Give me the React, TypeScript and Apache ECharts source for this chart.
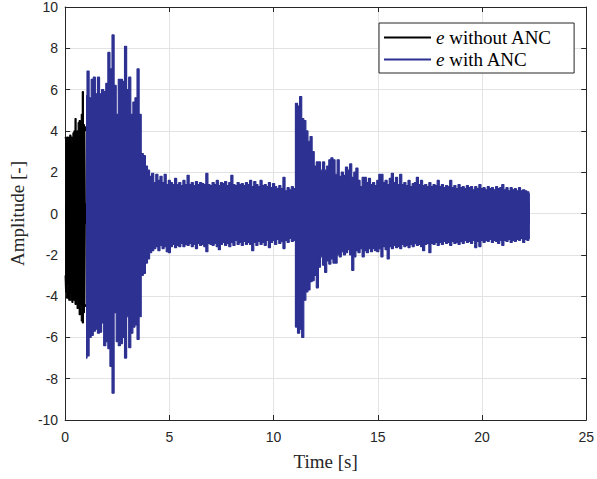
import React, { useEffect, useRef } from "react";
import * as echarts from "echarts";

// ---- Data (envelope of the error signal) ----
const blackTimes = [0, 0.05, 0.1, 0.15, 0.2, 0.25, 0.3, 0.35, 0.4, 0.45, 0.5, 0.55, 0.6, 0.65, 0.7, 0.75, 0.8, 0.85, 0.9, 0.95, 1.0];
const blackUpper = [3.7, 3.6, 3.7, 3.6, 3.7, 3.8, 3.7, 3.5, 3.9, 4.0, 4.6, 3.9, 4.0, 4.4, 4.5, 4.3, 4.8, 5.9, 4.3, 4.2, 4.0];
const blackLower = [-3.0, -3.8, -4.1, -3.5, -4.2, -4.2, -3.9, -4.3, -4.0, -4.2, -4.4, -4.1, -4.6, -4.4, -4.9, -4.5, -5.2, -5.3, -4.8, -4.5, -4.4];

const blueStart = 1.0;
const blueStep = 0.1;
const blueUpper = [
  5.7, 6.9, 5.6, 6.5, 6.6, 5.8, 6.6, 5.8, 6.0, 5.9,
  6.3, 7.8, 7.0, 8.65, 6.2, 4.8, 6.5, 6.5, 6.4, 8.1,
  6.0, 6.6, 4.8, 5.4, 5.6, 7.0, 4.8, 2.9, 2.8, 2.3,
  2.1, 1.8, 1.95, 1.5, 1.9, 1.6, 1.8, 1.5, 1.9, 1.4,
  1.6, 1.5, 1.4, 1.7, 1.4, 1.5, 1.35, 1.6, 1.4, 1.85,
  1.4, 1.5, 1.35, 1.55, 1.4, 1.5, 1.45, 1.4, 1.95, 1.4,
  1.35, 1.5, 1.4, 1.6, 1.35, 1.5, 1.45, 1.55, 1.35, 1.5,
  1.85, 1.4, 1.35, 1.5, 1.4, 1.45, 1.35, 1.5, 1.4, 1.6,
  1.3, 1.55, 1.4, 1.3, 1.6, 1.35, 1.4, 1.3, 1.5, 1.25,
  1.45, 1.3, 1.2, 1.35, 1.2, 1.75, 1.1, 1.25, 1.15, 1.3,
  1.2, 5.34, 5.2, 5.66, 4.6, 4.5, 4.0, 3.5, 3.73, 3.0,
  2.3, 2.5, 2.5, 2.1, 2.5, 2.1, 2.3, 2.6, 2.7, 2.6,
  1.9, 2.6, 1.8, 2.0, 1.85, 2.25, 2.1, 2.4, 1.75, 2.0,
  2.2, 1.6, 1.3, 1.75, 1.75, 1.5, 1.7, 1.4, 1.5, 1.35,
  1.6, 1.9, 1.9, 1.5, 1.6, 1.4, 1.7, 1.95, 1.5, 1.75,
  1.4, 1.9, 1.4, 1.5, 1.35, 1.6, 1.3, 1.45, 1.5, 1.75,
  1.4, 1.6, 1.35, 1.4, 1.3, 1.5, 1.3, 1.4, 1.35, 1.6,
  1.3, 1.4, 1.25, 1.35, 1.3, 1.6, 1.25, 1.35, 1.2, 1.4,
  1.25, 1.3, 1.2, 1.35, 1.25, 1.3, 1.15, 1.3, 1.2, 1.4,
  1.2, 1.25, 1.15, 1.3, 1.2, 1.25, 1.15, 1.3, 1.2, 1.25,
  1.4, 1.15, 1.25, 1.1, 1.25, 1.15, 1.2, 1.1, 1.25, 1.1,
  1.15, 1.1, 1.05, 0.95,
];
const blueLower = [
  -7.0, -6.9, -6.0, -5.9, -5.7, -5.6, -5.8, -5.75, -5.3, -6.4,
  -6.2, -6.55, -7.4, -8.7, -4.8, -6.2, -6.4, -6.3, -6.0, -7.0,
  -5.0, -6.5, -5.8, -5.5, -5.4, -6.1, -5.0, -3.0, -2.9, -2.4,
  -2.2, -1.9, -1.8, -1.7, -1.6, -1.8, -1.55, -1.7, -1.6, -1.85,
  -1.9, -1.6, -1.5, -1.65, -1.55, -1.6, -1.45, -1.6, -1.5, -1.55,
  -1.45, -1.6, -1.5, -1.7, -1.45, -1.55, -1.5, -1.6, -1.85, -1.45,
  -1.5, -1.55, -1.45, -1.6, -1.75, -1.5, -1.4, -1.55, -1.45, -1.6,
  -1.4, -1.55, -1.3, -1.5, -1.4, -1.55, -1.35, -1.5, -1.4, -1.5,
  -1.8, -1.4, -1.55, -1.35, -1.5, -1.4, -1.55, -1.3, -1.65, -1.4,
  -1.3, -1.5, -1.25, -1.45, -1.35, -1.7, -1.3, -1.4, -1.2, -1.35,
  -1.3, -5.5, -5.8, -5.6, -6.0, -4.2, -3.8, -3.7, -3.3, -3.25,
  -3.0, -3.6, -2.6, -2.1, -2.5, -2.85, -2.3, -2.45, -2.2, -2.4,
  -2.4, -2.0, -2.1, -1.85, -2.0, -1.9, -1.75, -2.0, -2.75, -2.1,
  -1.8, -1.9, -1.7, -2.1, -1.8, -1.9, -1.7, -1.85, -1.7, -1.8,
  -1.85, -1.7, -2.1, -1.6, -1.75, -2.2, -1.6, -1.7, -1.55, -1.65,
  -1.6, -1.7, -1.5, -1.6, -1.55, -1.65, -1.5, -1.6, -1.45, -1.55,
  -1.5, -1.6, -1.8, -1.5, -1.45, -1.9, -1.45, -1.5, -1.4, -1.55,
  -1.4, -1.5, -1.35, -1.45, -1.4, -1.55, -1.35, -1.45, -1.4, -1.5,
  -1.35, -1.45, -1.3, -1.4, -1.35, -1.45, -1.3, -1.65, -1.35, -1.6,
  -1.3, -1.4, -1.3, -1.35, -1.25, -1.4, -1.3, -1.35, -1.45, -1.3,
  -1.55, -1.3, -1.35, -1.25, -1.4, -1.3, -1.35, -1.25, -1.3, -1.2,
  -1.4, -1.25, -1.3, -1.2,
];

const xTicks = [0, 5, 10, 15, 20, 25];
const yTicks = [-10, -8, -6, -4, -2, 0, 2, 4, 6, 8, 10];

const NAME_OFF = "e without ANC";
const NAME_ON = "e with ANC";
const BLACK = "#000000";
const BLUE = "#2d3192";

const SERIF = "'Liberation Serif', 'Times New Roman', serif";
const SANS = "'Liberation Sans', Arial, Helvetica, sans-serif";

function pairs(times: number[], vals: number[]) {
  return vals.map((v, i) => [times[i], v]);
}

export default function App() {
  const ref = useRef<HTMLDivElement>(null);

  useEffect(() => {
    if (!ref.current) return;
    const chart = echarts.init(ref.current, null, { renderer: "svg" });

    const blueTimes = blueUpper.map((_, i) => +(blueStart + i * blueStep).toFixed(2));

    const envSeries = (name: string, color: string, data: number[][], origin: number) => ({
      type: "line",
      name,
      data,
      xAxisIndex: 0,
      yAxisIndex: 0,
      showSymbol: false,
      symbol: "none",
      step: "middle",
      color,
      lineStyle: { color, width: 1.2 },
      itemStyle: { color },
      areaStyle: { color, opacity: 1, origin },
      silent: true,
    });

    const axisLine = { show: true, onZero: false, lineStyle: { color: "#262626", width: 1 } };
    const tick = { show: true, inside: true, length: 5, lineStyle: { color: "#262626", width: 1 } };

    chart.setOption({
      animation: false,
      backgroundColor: "#ffffff",
      grid: { left: 62, right: 10, top: 7, bottom: 59, containLabel: false },
      legend: {
        show: true,
        data: [NAME_OFF, NAME_ON],
        orient: "vertical",
        left: 379,
        top: 23,
        icon: "rect",
        itemWidth: 47,
        itemHeight: 2,
        itemGap: 3,
        padding: [5, 22, 4, 5],
        borderColor: "#262626",
        borderWidth: 1,
        borderRadius: 0,
        backgroundColor: "#ffffff",
        selectedMode: false,
        formatter: (name: string) => "{i|e}" + name.slice(1),
        textStyle: {
          fontFamily: SERIF,
          fontSize: 19,
          color: "#000000",
          lineHeight: 19,
          rich: {
            i: { fontFamily: SERIF, fontStyle: "italic", fontSize: 19, color: "#000000", lineHeight: 19 },
          },
        },
      },
      xAxis: [
        {
          type: "value",
          min: 0,
          max: 25,
          interval: 5,
          position: "bottom",
          name: "Time [s]",
          nameLocation: "middle",
          nameGap: 32,
          nameTextStyle: { fontFamily: SERIF, fontSize: 19, color: "#262626" },
          axisLine,
          axisTick: tick,
          axisLabel: {
            fontFamily: SANS,
            fontSize: 14,
            color: "#262626",
            margin: 10,
            formatter: (v: number) => (xTicks.includes(v) ? String(v) : ""),
          },
          splitLine: { show: true, lineStyle: { color: "#e3e3e3", width: 1 } },
        },
        {
          type: "value",
          min: 0,
          max: 25,
          interval: 5,
          position: "top",
          axisLine,
          axisTick: tick,
          axisLabel: { show: false },
          splitLine: { show: false },
        },
      ],
      yAxis: [
        {
          type: "value",
          min: -10,
          max: 10,
          interval: 2,
          position: "left",
          name: "Amplitude [-]",
          nameLocation: "middle",
          nameRotate: 90,
          nameGap: 36,
          nameTextStyle: { fontFamily: SERIF, fontSize: 19, color: "#262626" },
          axisLine,
          axisTick: tick,
          axisLabel: {
            fontFamily: SANS,
            fontSize: 14,
            color: "#262626",
            margin: 7,
            formatter: (v: number) => (yTicks.includes(v) ? String(v) : ""),
          },
          splitLine: { show: true, lineStyle: { color: "#e3e3e3", width: 1 } },
        },
        {
          type: "value",
          min: -10,
          max: 10,
          interval: 2,
          position: "right",
          axisLine,
          axisTick: tick,
          axisLabel: { show: false },
          splitLine: { show: false },
        },
      ],
      series: [
        envSeries(NAME_OFF, BLACK, pairs(blackTimes, blackUpper), -0.5),
        envSeries(NAME_OFF, BLACK, pairs(blackTimes, blackLower), 0.5),
        envSeries(NAME_ON, BLUE, pairs(blueTimes, blueUpper), -0.5),
        envSeries(NAME_ON, BLUE, pairs(blueTimes, blueLower), 0.5),
      ],
    });

    return () => chart.dispose();
  }, []);

  return <div ref={ref} style={{ width: 597, height: 479, position: "absolute", left: 0, top: 0 }} />;
}
